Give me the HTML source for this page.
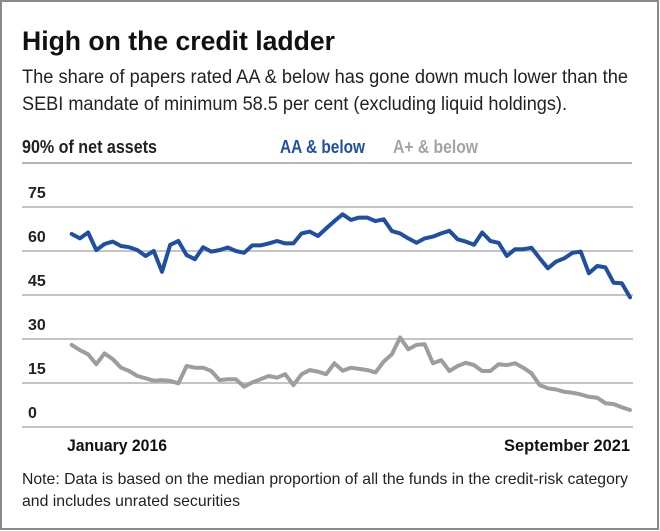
<!DOCTYPE html>
<html><head><meta charset="utf-8"><style>
html,body{margin:0;padding:0;background:#fff}
svg{display:block}
text{font-family:"Liberation Sans",sans-serif}
</style></head><body>
<svg id="chart" width="660" height="531" viewBox="0 0 660 531">
<rect x="1" y="1" width="657" height="528" fill="#fff" stroke="#8a8a8a" stroke-width="2"/>
<text x="22" y="50" font-size="27" font-weight="bold" fill="#111" textLength="313" lengthAdjust="spacingAndGlyphs">High on the credit ladder</text>
<text x="22" y="83" font-size="19" fill="#222" textLength="606" lengthAdjust="spacingAndGlyphs">The share of papers rated AA &amp; below has gone down much lower than the</text>
<text x="22" y="110" font-size="19" fill="#222" textLength="545" lengthAdjust="spacingAndGlyphs">SEBI mandate of minimum 58.5 per cent (excluding liquid holdings).</text>
<text x="22" y="153" font-size="18" font-weight="bold" fill="#222" textLength="135" lengthAdjust="spacingAndGlyphs">90% of net assets</text>
<text x="280" y="153" font-size="18" font-weight="bold" fill="#1f4fa3" textLength="85" lengthAdjust="spacingAndGlyphs">AA &amp; below</text>
<text x="393" y="153" font-size="18" font-weight="bold" fill="#a3a3a3" textLength="85" lengthAdjust="spacingAndGlyphs">A+ &amp; below</text>
<line x1="22" y1="163" x2="632" y2="163" stroke="#b5b5b5" stroke-width="2"/>
<g id="grid"></g>
<g id="lines"></g>
<text x="67" y="451" font-size="17" font-weight="bold" fill="#111" textLength="100" lengthAdjust="spacingAndGlyphs">January 2016</text>
<text x="504" y="451" font-size="17" font-weight="bold" fill="#111" textLength="126" lengthAdjust="spacingAndGlyphs">September 2021</text>
<text x="22" y="484" font-size="16" fill="#222" textLength="606" lengthAdjust="spacingAndGlyphs">Note: Data is based on the median proportion of all the funds in the credit-risk category</text>
<text x="22" y="506" font-size="16" fill="#222" textLength="218" lengthAdjust="spacingAndGlyphs">and includes unrated securities</text>
</svg>
<script>
const yTicks = [0, 15, 30, 45, 60, 75];
const aaBelow = [65.8,64.3,66.3,60.3,62.4,63.2,61.7,61.3,60.3,58.3,60.0,52.9,62.1,63.4,58.6,57.2,61.3,59.8,60.3,61.2,60.0,59.4,61.9,61.9,62.6,63.4,62.6,62.6,66.0,66.6,65.1,67.7,70.2,72.5,70.6,71.4,71.4,70.2,70.8,66.8,66.0,64.3,62.8,64.3,64.9,66.0,66.9,64.0,63.2,62.1,66.3,63.4,62.8,58.3,60.6,60.6,61.1,57.5,54.1,56.4,57.5,59.4,59.8,52.4,54.9,54.4,49.2,49.0,44.2];
const aPlusBelow = [28.0,26.2,24.8,21.4,25.1,23.1,20.2,19.1,17.4,16.6,15.8,16.0,15.7,14.9,20.8,20.2,20.2,19.1,16.0,16.3,16.3,13.7,15.2,16.3,17.4,16.8,18.0,14.3,18.0,19.4,18.9,18.0,21.7,19.2,20.2,19.8,19.4,18.6,22.3,24.8,30.5,26.5,28.0,28.2,21.7,22.8,19.1,20.8,21.9,21.1,19.1,19.1,21.4,21.1,21.7,20.2,18.3,14.3,13.2,12.8,12.0,11.7,11.1,10.3,10.0,8.1,7.8,6.7,5.8];

const NS = "http://www.w3.org/2000/svg";
const x0 = 71.7, x1 = 630, y0 = 427, yPer = 44 / 15;
const n = aaBelow.length;
const xScale = i => x0 + (x1 - x0) * i / (n - 1);
const yScale = v => y0 - v * yPer;

const grid = document.getElementById('grid');
yTicks.forEach(t => {
  const l = document.createElementNS(NS, 'line');
  l.setAttribute('x1', 22); l.setAttribute('x2', 633);
  l.setAttribute('y1', yScale(t)); l.setAttribute('y2', yScale(t));
  l.setAttribute('stroke', '#c4c4c4'); l.setAttribute('stroke-width', '2');
  
  
  grid.appendChild(l);
  const tx = document.createElementNS(NS, 'text');
  tx.setAttribute('x', 28); tx.setAttribute('y', yScale(t) - 9);
  tx.setAttribute('font-size', '16'); tx.setAttribute('font-weight', 'bold'); tx.setAttribute('fill', '#222');
  tx.textContent = t;
  
  
  grid.appendChild(tx);
});

const lines = document.getElementById('lines');
function drawSeries(vals, color, name) {
  const p = document.createElementNS(NS, 'polyline');
  p.setAttribute('points', vals.map((v, i) => xScale(i).toFixed(1) + ',' + yScale(v).toFixed(1)).join(' '));
  p.setAttribute('fill', 'none'); p.setAttribute('stroke', color);
  p.setAttribute('stroke-width', '4'); p.setAttribute('stroke-linejoin', 'round'); p.setAttribute('stroke-linecap', 'round');
  
  
  lines.appendChild(p);
}
drawSeries(aPlusBelow, '#9d9d9f', 'line-a-plus-below');
drawSeries(aaBelow, '#1f4fa3', 'line-aa-below');
</script>
</body></html>
